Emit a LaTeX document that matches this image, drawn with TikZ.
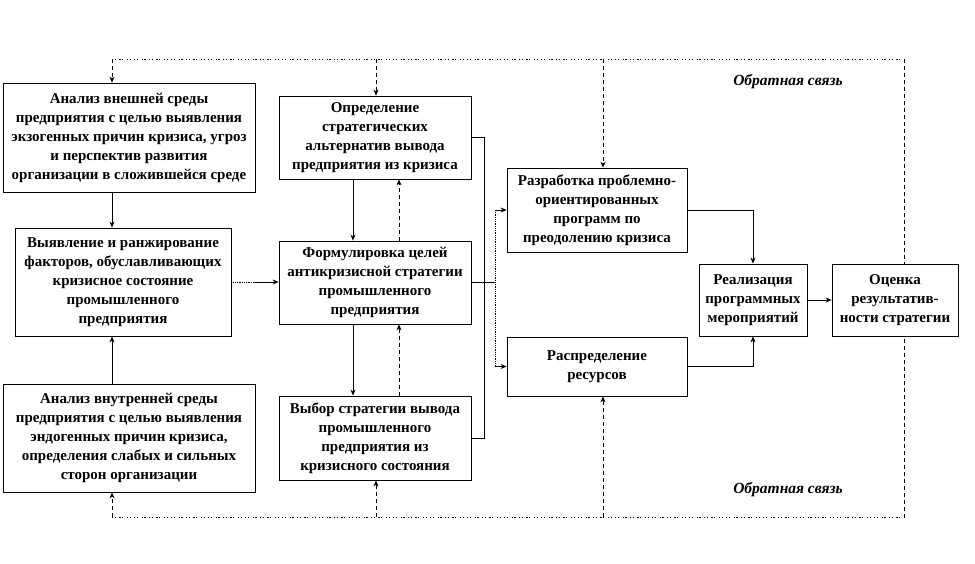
\documentclass[tikz,border=0pt]{standalone}
\usepackage{fontspec}
\setmainfont{Liberation Serif}
\usetikzlibrary{arrows.meta}
\begin{document}
\begin{tikzpicture}[x=1pt,y=-1pt,
  box/.style={draw,fill=white,line width=0.8pt,align=center,inner sep=1pt,
    font=\bfseries\fontsize{15}{19}\selectfont},
  conn/.style={line width=0.8pt,-{Stealth[length=6pt,width=5pt]}},
  line/.style={line width=0.8pt},
  fbdot/.style={line width=0.8pt,dash pattern=on 1.2pt off 1.5pt on 1.2pt off 3.5pt},
  fbdash/.style={line width=0.8pt,dash pattern=on 4pt off 3pt},
  fbtext/.style={font=\bfseries\itshape\fontsize{15.5}{17}\selectfont}]
\useasboundingbox (0,0) rectangle (975,564);

% coordinates
\coordinate (fA) at (112,59);
\coordinate (fB) at (376,59);
\coordinate (fC) at (603,59);
\coordinate (fR) at (904,59);
\coordinate (gA) at (112,517);
\coordinate (gB) at (376,517);
\coordinate (gC) at (603,517);
\coordinate (gR) at (904,517);
\coordinate (bs) at (353,0);
\coordinate (bd) at (399,0);
\coordinate (bus) at (484,0);
\coordinate (split) at (495,0);
\coordinate (ab) at (253,282);

% feedback loop frame (behind boxes)
\draw[fbdot] (fA) -- (fR);
\draw[fbdot] (gA) -- (gR);
\draw[fbdash] (fR) -- (gR);

% boxes
\node[box,minimum width=252pt,minimum height=109pt] (A1) at (129,137.5)
  {Анализ внешней среды\\предприятия с целью выявления\\экзогенных причин кризиса, угроз\\и перспектив развития\\организации в сложившейся среде};
\node[box,minimum width=216pt,minimum height=108pt] (A2) at (123,282)
  {Выявление и ранжирование\\факторов, обуславливающих\\кризисное состояние\\промышленного\\предприятия};
\node[box,minimum width=252pt,minimum height=108pt] (A3) at (129,438)
  {Анализ внутренней среды\\предприятия с целью выявления\\эндогенных причин кризиса,\\определения слабых и сильных\\сторон организации};
\node[box,minimum width=192pt,minimum height=83pt] (B1) at (375,137.5)
  {Определение\\стратегических\\альтернатив вывода\\предприятия из кризиса};
\node[box,minimum width=192pt,minimum height=83pt] (B2) at (375,282.5)
  {Формулировка целей\\антикризисной стратегии\\промышленного\\предприятия};
\node[box,minimum width=192pt,minimum height=84pt] (B3) at (375,438)
  {Выбор стратегии вывода\\промышленного\\предприятия из\\кризисного состояния};
\node[box,minimum width=180pt,minimum height=84pt] (C1) at (597,210)
  {Разработка проблемно-\\ориентированных\\программ по\\преодолению кризиса};
\node[box,minimum width=180pt,minimum height=59pt] (C2) at (597,366.5)
  {Распределение\\ресурсов};
\node[box,minimum width=108pt,minimum height=72pt] (D) at (753,300)
  {Реализация\\программных\\мероприятий};
\node[box,minimum width=126pt,minimum height=72pt] (E) at (895,300)
  {Оценка\\результатив-\\ности стратегии};

% feedback labels
\node[fbtext] (T1) at (788,82) {Обратная связь};
\node[fbtext] (T2) at (788,490) {Обратная связь};

% feedback arrows
\draw[fbdash,conn] (fA) -- (fA |- A1.north);
\draw[fbdash,conn] (fB) -- (fB |- B1.north);
\draw[fbdash,conn] (fC) -- (fC |- C1.north);
\draw[fbdash,conn] (gA) -- (gA |- A3.south);
\draw[fbdash,conn] (gB) -- (gB |- B3.south);
\draw[fbdash,conn] (gC) -- (gC |- C2.south);

% left column
\draw[conn] (fA |- A1.south) -- (fA |- A2.north);
\draw[conn] (fA |- A3.north) -- (fA |- A2.south);
\draw[line,densely dotted] (A2.east |- ab) -- (ab);
\draw[conn] (ab) -- (B2.west |- ab);

% middle column
\draw[conn] (bs |- B1.south) -- (bs |- B2.north);
\draw[conn] (bs |- B2.south) -- (bs |- B3.north);
\draw[fbdash,conn] (bd |- B2.north) -- (bd |- B1.south);
\draw[fbdash,conn] (bd |- B3.north) -- (bd |- B2.south);

% bus to right
\draw[line] (B1.east) -| (bus |- B3.east) -- (B3.east);
\draw[line] (B2.east) -- (split |- B2.east);
\draw[line,densely dotted] (split |- C1.west) -- (split |- C2.west);
\draw[conn] (split |- C1.west) -- (C1.west);
\draw[conn] (split |- C2.west) -- (C2.west);

% right part
\draw[conn] (C1.east) -| (D.north);
\draw[conn] (C2.east) -| (D.south);
\draw[conn] (D.east) -- (E.west);
\end{tikzpicture}
\end{document}
